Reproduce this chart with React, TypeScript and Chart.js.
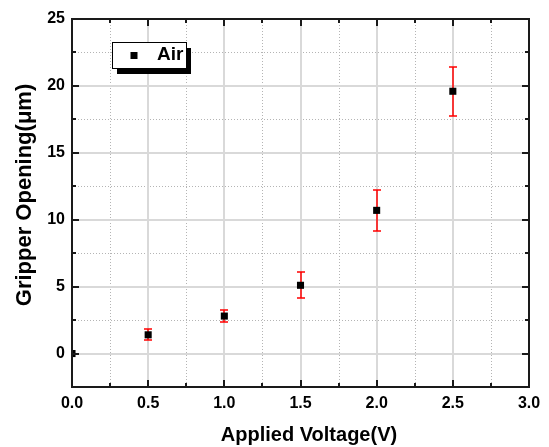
import React, { useEffect, useRef } from "react";
import { Chart, registerables } from "chart.js";

Chart.register(...registerables);

// ---- data ----
const seriesLabel = "Air";
const voltage = [0, 0.5, 1.0, 1.5, 2.0, 2.5];
const opening = [0, 1.4, 2.8, 5.1, 10.7, 19.6];
const openingErr = [0, 0.4, 0.48, 0.96, 1.55, 1.85];
const xTicks = [0, 0.5, 1.0, 1.5, 2.0, 2.5, 3.0];
const yTicks = [0, 5, 10, 15, 20, 25];
const xMinorStep = 0.25;
const yMinorStep = 2.5;
const xMin = 0;
const xMax = 3;
const yMin = -2.5;
const yMax = 25;
const xTitle = "Applied Voltage(V)";
const yTitle = "Gripper Opening(\u03bcm)";

const FONT = "'Liberation Sans', Arial, sans-serif";

const isIn = (v: number, arr: number[]) => arr.some((t) => Math.abs(t - v) < 1e-9);

const decorPlugin = {
  id: "decor",
  beforeDatasetsDraw(chart: any) {
    const { ctx, chartArea: a, scales } = chart;
    const x = scales.x;
    const y = scales.y;
    ctx.save();
    ctx.beginPath();
    ctx.rect(a.left, a.top, a.right - a.left, a.bottom - a.top);
    ctx.clip();
    // minor dotted grid
    ctx.lineWidth = 1;
    ctx.strokeStyle = "#b4b4b4";
    ctx.setLineDash([1, 2]);
    for (let v = xMin; v <= xMax + 1e-9; v += xMinorStep) {
      if (isIn(v, xTicks)) continue;
      const px = Math.round(x.getPixelForValue(v)) + 0.5;
      ctx.beginPath();
      ctx.moveTo(px, a.top);
      ctx.lineTo(px, a.bottom);
      ctx.stroke();
    }
    for (let v = yMin; v <= yMax + 1e-9; v += yMinorStep) {
      if (isIn(v, yTicks)) continue;
      const py = Math.round(y.getPixelForValue(v)) + 0.5;
      ctx.beginPath();
      ctx.moveTo(a.left, py);
      ctx.lineTo(a.right, py);
      ctx.stroke();
    }
    // major solid grid
    ctx.setLineDash([]);
    ctx.strokeStyle = "#d9d9d9";
    ctx.lineWidth = 2;
    xTicks.forEach((v) => {
      const px = Math.round(x.getPixelForValue(v));
      ctx.beginPath();
      ctx.moveTo(px, a.top);
      ctx.lineTo(px, a.bottom);
      ctx.stroke();
    });
    yTicks.forEach((v) => {
      const py = Math.round(y.getPixelForValue(v));
      ctx.beginPath();
      ctx.moveTo(a.left, py);
      ctx.lineTo(a.right, py);
      ctx.stroke();
    });
    // error bars
    ctx.strokeStyle = "#ff0000";
    voltage.forEach((v, i) => {
      const e = openingErr[i];
      if (!e) return;
      const px = Math.round(x.getPixelForValue(v));
      const pt = Math.round(y.getPixelForValue(opening[i] + e));
      const pb = Math.round(y.getPixelForValue(opening[i] - e));
      ctx.lineWidth = 1.5;
      ctx.beginPath();
      ctx.moveTo(px, pt);
      ctx.lineTo(px, pb);
      ctx.stroke();
      ctx.lineWidth = 1.5;
      ctx.beginPath();
      ctx.moveTo(px - 4, pt);
      ctx.lineTo(px + 4, pt);
      ctx.moveTo(px - 4, pb);
      ctx.lineTo(px + 4, pb);
      ctx.stroke();
    });
    ctx.restore();
  },
  afterDatasetsDraw(chart: any) {
    const { ctx, chartArea: a, scales } = chart;
    const x = scales.x;
    const y = scales.y;
    ctx.save();
    ctx.strokeStyle = "#1a1a1a";
    ctx.lineWidth = 2;
    ctx.strokeRect(a.left, a.top, a.right - a.left, a.bottom - a.top);
    // inward ticks
    for (let v = xMin; v <= xMax + 1e-9; v += xMinorStep) {
      const len = isIn(v, xTicks) ? 7 : 4;
      const px = Math.round(x.getPixelForValue(v));
      ctx.beginPath();
      ctx.moveTo(px, a.bottom);
      ctx.lineTo(px, a.bottom - len);
      ctx.moveTo(px, a.top);
      ctx.lineTo(px, a.top + len);
      ctx.stroke();
    }
    for (let v = yMin; v <= yMax + 1e-9; v += yMinorStep) {
      const len = isIn(v, yTicks) ? 7 : 4;
      const py = Math.round(y.getPixelForValue(v));
      ctx.beginPath();
      ctx.moveTo(a.left, py);
      ctx.lineTo(a.left + len, py);
      ctx.moveTo(a.right, py);
      ctx.lineTo(a.right - len, py);
      ctx.stroke();
    }
    // legend box with shadow
    const ds = chart.data.datasets[0];
    const bx = a.left + 40;
    const by = a.top + 23;
    const bw = 74;
    const bh = 26;
    ctx.fillStyle = "#000";
    ctx.fillRect(bx + 5, by + 6, bw, bh);
    ctx.fillStyle = "#fff";
    ctx.fillRect(bx, by, bw, bh);
    ctx.strokeStyle = "#000";
    ctx.lineWidth = 1;
    ctx.strokeRect(bx + 0.5, by + 0.5, bw, bh);
    ctx.fillStyle = "#000";
    ctx.fillRect(bx + 18.5, by + 10, 7, 7);
    ctx.font = `bold 19px ${FONT}`;
    ctx.textBaseline = "middle";
    ctx.textAlign = "left";
    ctx.fillText(ds.label, bx + 45, by + 12.5);

    // axis titles
    ctx.fillStyle = "#000";
    ctx.textAlign = "center";
    ctx.textBaseline = "middle";
    ctx.font = `bold 20px ${FONT}`;
    ctx.fillText(xTitle, (a.left + a.right) / 2 + 8.5, chart.height - 12);
    ctx.save();
    ctx.translate(25, (a.top + a.bottom) / 2 - 8);
    ctx.rotate(-Math.PI / 2);
    ctx.font = `bold 22px ${FONT}`;
    ctx.fillText(yTitle, 0, 0);
    ctx.restore();
    ctx.restore();
  },
};

export default function App() {
  const canvasRef = useRef<HTMLCanvasElement | null>(null);

  useEffect(() => {
    document.body.style.margin = "0";
    const canvas = canvasRef.current;
    if (!canvas) return;
    const chart = new Chart(canvas, {
      type: "scatter",
      data: {
        datasets: [
          {
            label: seriesLabel,
            data: voltage.map((v, i) => ({ x: v, y: opening[i] })),
            pointStyle: "rect",
            pointRadius: 5,
            pointHoverRadius: 5,
            backgroundColor: "#000",
            borderColor: "#000",
            borderWidth: 0,
            clip: 0,
          } as any,
        ],
      },
      options: {
        animation: false,
        responsive: false,
        devicePixelRatio: 1,
        layout: { padding: { top: 19, right: 20, left: 0, bottom: 0 } },
        plugins: {
          legend: { display: false },
          tooltip: { enabled: false },
        },
        scales: {
          x: {
            type: "linear",
            min: xMin,
            max: xMax,
            afterBuildTicks: (s: any) => {
              s.ticks = xTicks.map((v) => ({ value: v }));
            },
            afterFit: (s: any) => {
              s.height = 60;
            },
            grid: { display: false, drawTicks: false },
            border: { display: false },
            ticks: {
              padding: 7,
              color: "#000",
              font: { family: FONT, size: 16, weight: "bold" },
              callback: (v: any) => Number(v).toFixed(1),
              maxRotation: 0,
              autoSkip: false,
            },
            title: { display: false, text: xTitle },
          },
          y: {
            type: "linear",
            min: yMin,
            max: yMax,
            afterBuildTicks: (s: any) => {
              s.ticks = yTicks.map((v) => ({ value: v }));
            },
            afterFit: (s: any) => {
              s.width = 72;
            },
            grid: { display: false, drawTicks: false },
            border: { display: false },
            ticks: {
              padding: 7,
              color: "#000",
              font: { family: FONT, size: 16, weight: "bold" },
              callback: (v: any) => String(v),
              autoSkip: false,
            },
            title: { display: false, text: yTitle },
          },
        },
      } as any,
      plugins: [decorPlugin],
    });
    return () => chart.destroy();
  }, []);

  return (
    <div style={{ width: 549, height: 447 }}>
      <canvas ref={canvasRef} width={549} height={447} style={{ display: "block" }} />
    </div>
  );
}
